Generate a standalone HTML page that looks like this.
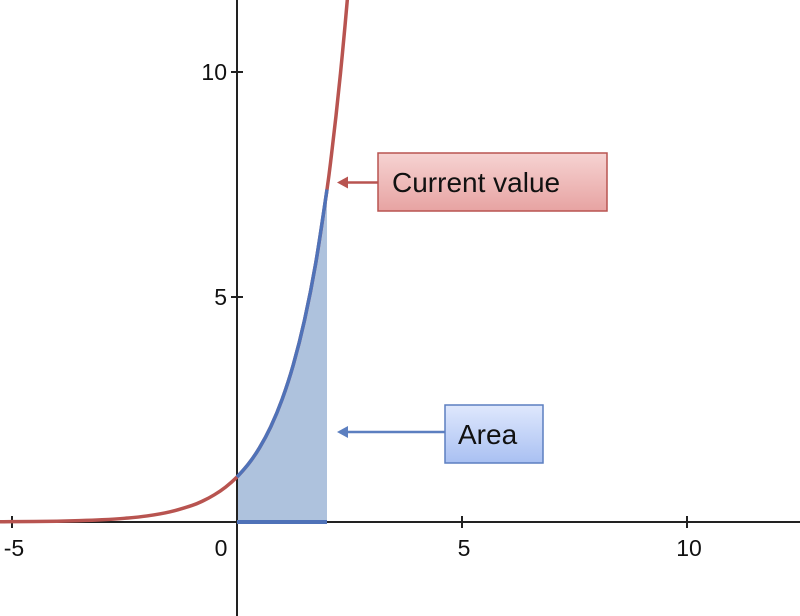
<!DOCTYPE html>
<html><head><meta charset="utf-8"><style>
html,body{margin:0;padding:0;background:#fff;}
svg{display:block;font-family:"Liberation Sans",sans-serif;}
</style></head><body>
<svg id="chart" width="800" height="616" viewBox="0 0 800 616">
<defs>
<linearGradient id="gRed" x1="0" y1="0" x2="0" y2="1"><stop offset="0" stop-color="#f6d3d2"/><stop offset="1" stop-color="#e7a3a2"/></linearGradient>
<linearGradient id="gBlue" x1="0" y1="0" x2="0" y2="1"><stop offset="0" stop-color="#dfe8fd"/><stop offset="1" stop-color="#a9c0f2"/></linearGradient>
</defs>
<g id="plot"></g>
</svg>
<script>
const xs = [-5.5,-5,-4.5,-4,-3.5,-3,-2.5,-2,-1.5,-1,-0.75,-0.5,-0.25,0,0.25,0.5,0.75,1,1.25,1.5,1.75,2,2.1,2.2,2.3,2.4,2.46];
const ys = [0.004,0.007,0.011,0.018,0.030,0.050,0.082,0.135,0.223,0.368,0.472,0.607,0.779,1,1.284,1.649,2.117,2.718,3.490,4.482,5.755,7.389,8.166,9.025,9.974,11.023,11.70];
const xTicks = [-5,0,5,10];
const xTickLabels = ["-5","0","5","10"];
const yTicks = [5,10];
const yTickLabels = ["5","10"];
const areaRange = [0,2];
const currentX = 2;
const currentY = 7.389;

const NS="http://www.w3.org/2000/svg";
const g=document.getElementById('plot');
const X=v=>237+45*v, Y=v=>522-45*v;
function mk(t,a){const e=document.createElementNS(NS,t);for(const k in a)e.setAttribute(k,a[k]);g.appendChild(e);return e;}
function smooth(pts){let d=`M${pts[0][0]},${pts[0][1]}`;for(let i=0;i<pts.length-1;i++){const p0=pts[Math.max(0,i-1)],p1=pts[i],p2=pts[i+1],p3=pts[Math.min(pts.length-1,i+2)];
d+=` C${p1[0]+(p2[0]-p0[0])/6},${p1[1]+(p2[1]-p0[1])/6} ${p2[0]-(p3[0]-p1[0])/6},${p2[1]-(p3[1]-p1[1])/6} ${p2[0]},${p2[1]}`;}return d;}
const all=xs.map((x,i)=>[X(x),Y(ys[i])]);
const seg=xs.map((x,i)=>[x,ys[i]]).filter(p=>p[0]>=areaRange[0]&&p[0]<=areaRange[1]).map(p=>[X(p[0]),Y(p[1])]);

let e=mk('path',{d:smooth(seg)+` L${X(areaRange[1])},${Y(0)} L${X(areaRange[0])},${Y(0)} Z`,fill:'#aec2dd'});

e=mk('line',{x1:0,y1:Y(0),x2:800,y2:Y(0),stroke:'#222','stroke-width':2});

e=mk('line',{x1:X(0),y1:0,x2:X(0),y2:616,stroke:'#222','stroke-width':2});

xTicks.forEach((t,i)=>{
 let l=mk('line',{x1:X(t),y1:Y(0)-6,x2:X(t),y2:Y(0)+6,stroke:'#222','stroke-width':2});
 
 let tx=mk('text',{x:t===0?X(t)-16:X(t)+2,y:556,'font-size':23,'text-anchor':'middle',fill:'#111'});tx.textContent=xTickLabels[i];
 
});
yTicks.forEach((t,i)=>{
 let l=mk('line',{x1:X(0)-6,y1:Y(t),x2:X(0)+6,y2:Y(t),stroke:'#222','stroke-width':2});
 
 let tx=mk('text',{x:X(0)-10,y:Y(t)+8,'font-size':23,'text-anchor':'end',fill:'#111'});tx.textContent=yTickLabels[i];
 
});
e=mk('path',{d:smooth(all),fill:'none',stroke:'#b85450','stroke-width':3.5});

e=mk('path',{d:smooth(seg),fill:'none',stroke:'#4f72b8','stroke-width':3.5});

e=mk('line',{x1:X(areaRange[0]),y1:Y(0),x2:X(areaRange[1]),y2:Y(0),stroke:'#4f72b8','stroke-width':4});

function callout(name,bx,by,bw,bh,fill,stroke,text,tx,ax,ay){
 let l=mk('line',{x1:bx,y1:ay,x2:ax+10,y2:ay,stroke:stroke,'stroke-width':2.5});
 
 let h=mk('path',{d:`M${ax},${ay} L${ax+11},${ay-6} L${ax+11},${ay+6} Z`,fill:stroke});
 
 let r=mk('rect',{x:bx,y:by,width:bw,height:bh,fill:fill,stroke:stroke,'stroke-width':1.5});
 
 let t=mk('text',{x:tx,y:by+bh/2+10,'font-size':28,fill:'#111'});t.textContent=text;
 
}
callout('current-value',378,153,229,58,'url(#gRed)','#b85450','Current value',392,X(currentX)+10,Y(currentY)-7);
callout('area',445,405,98,58,'url(#gBlue)','#5c7fc0','Area',458,X(currentX)+10,432);
</script>
</body></html>
